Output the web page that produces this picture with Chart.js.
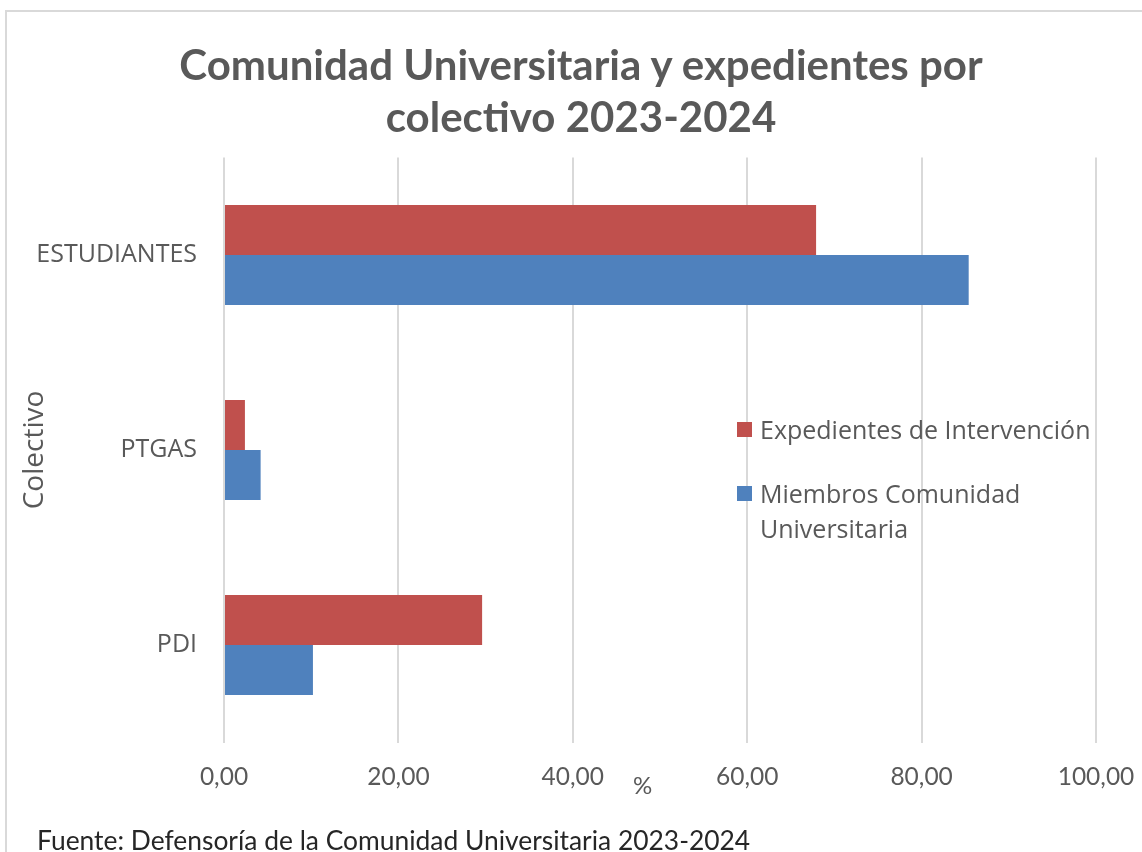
<!DOCTYPE html>
<html lang="es">
<head>
<meta charset="utf-8">
<title>Comunidad Universitaria y expedientes por colectivo 2023-2024</title>
<script src="https://cdn.jsdelivr.net/npm/chart.js@4.4.1/dist/chart.umd.min.js"></script>
<style>
  html, body { margin: 0; padding: 0; background: #fff; overflow: hidden; }
  #wrap { position: relative; width: 1142px; height: 852px; overflow: hidden; }
  #frame {
    position: absolute; left: 5px; top: 10px; width: 1200px; height: 900px;
    border: 2px solid #d9d9d9; box-sizing: border-box;
  }
  #chart { position: absolute; left: 0; top: 0; }
  .txt { position: absolute; color: #595959; white-space: nowrap; }
  #title {
    left: 0; width: 1162px; top: 38px; text-align: center;
    font: bold 42px "Lato", sans-serif; line-height: 52px;
  }
  #legend { left: 737px; top: 412px; font: 25px "Open Sans", sans-serif; line-height: 35px; }
  #legend .item { position: relative; padding-left: 23px; margin-bottom: 29px; }
  #legend .swatch { position: absolute; left: 0; top: 10px; width: 15px; height: 15px; }
  #unit { left: 633px; top: 770px; font: 24px "Lato", sans-serif; }
  #source { left: 37px; top: 824px; font: 26.4px "Lato", sans-serif; color: #262626; }
</style>
</head>
<body>
<div id="wrap">
  <div id="frame"></div>
  <canvas id="chart" width="1142" height="852"></canvas>
  <div id="title" class="txt"></div>
  <div id="legend" class="txt"></div>
  <div id="unit" class="txt">%</div>
  <div id="source" class="txt">Fuente: Defensoría de la Comunidad Universitaria 2023-2024</div>
</div>
<script>
const titleLines = ["Comunidad Universitaria y expedientes por", "colectivo 2023-2024"];
const colectivos = ["ESTUDIANTES", "PTGAS", "PDI"];
const expedientes = [67.9, 2.4, 29.6];
const miembros = [85.4, 4.2, 10.2];
const xTickLabels = ["0,00", "20,00", "40,00", "60,00", "80,00", "100,00"];

const series = [
  { label: "Expedientes de Intervención", lines: ["Expedientes de Intervención"], data: expedientes, color: "#c0504d" },
  { label: "Miembros Comunidad Universitaria", lines: ["Miembros Comunidad", "Universitaria"], data: miembros, color: "#4f81bd" },
];

function buildTitle() {
  const box = document.getElementById("title");
  titleLines.forEach((line, i) => {
    if (i > 0) box.appendChild(document.createElement("br"));
    box.appendChild(document.createTextNode(line));
  });
}

// legend sits inside the plot, text wraps like the original
function buildLegend() {
  const box = document.getElementById("legend");
  series.forEach((s) => {
    const item = document.createElement("div");
    item.className = "item";
    const sw = document.createElement("span");
    sw.className = "swatch";
    sw.style.background = s.color;
    item.appendChild(sw);
    s.lines.forEach((line, i) => {
      if (i > 0) item.appendChild(document.createElement("br"));
      item.appendChild(document.createTextNode(line));
    });
    box.appendChild(item);
  });
}

function renderChart() {
  const ctx = document.getElementById("chart").getContext("2d");
  new Chart(ctx, {
    type: "bar",
    data: {
      labels: colectivos,
      datasets: series.map((s) => ({
        label: s.label,
        data: s.data,
        backgroundColor: s.color,
        borderWidth: 0,
        categoryPercentage: 0.513,
        barPercentage: 1.0,
      })),
    },
    options: {
      indexAxis: "y",
      responsive: false,
      animation: false,
      layout: { padding: { left: 0, right: 46, top: 157.5, bottom: 0 } },
      plugins: {
        legend: { display: false },
        tooltip: { enabled: false },
        title: { display: false },
      },
      scales: {
        x: {
          min: 0,
          max: 100,
          ticks: {
            stepSize: 20,
            padding: 20,
            color: "#595959",
            font: { family: "Lato", size: 24.5 },
            callback: (value, index) => xTickLabels[index],
          },
          grid: { color: "#d9d9d9", lineWidth: 2, drawTicks: false },
          border: { display: false },
          afterFit: (scale) => {
            scale.height = 109.5;
            scale.paddingLeft = 0;
            scale.paddingRight = 0;
          },
        },
        y: {
          ticks: {
            padding: 27,
            color: "#595959",
            font: { family: "Open Sans", size: 25 },
          },
          grid: { display: false, drawTicks: false },
          border: { display: false },
          title: {
            display: true,
            text: "Colectivo",
            color: "#595959",
            font: { family: "Open Sans", size: 28 },
            padding: { top: 18, bottom: 0 },
          },
          afterFit: (scale) => {
            scale.width = 224;
            scale.paddingTop = 0;
            scale.paddingBottom = 0;
          },
        },
      },
    },
  });
}

document.addEventListener("DOMContentLoaded", () => {
  buildTitle();
  buildLegend();
  renderChart();
});
</script>
</body>
</html>
